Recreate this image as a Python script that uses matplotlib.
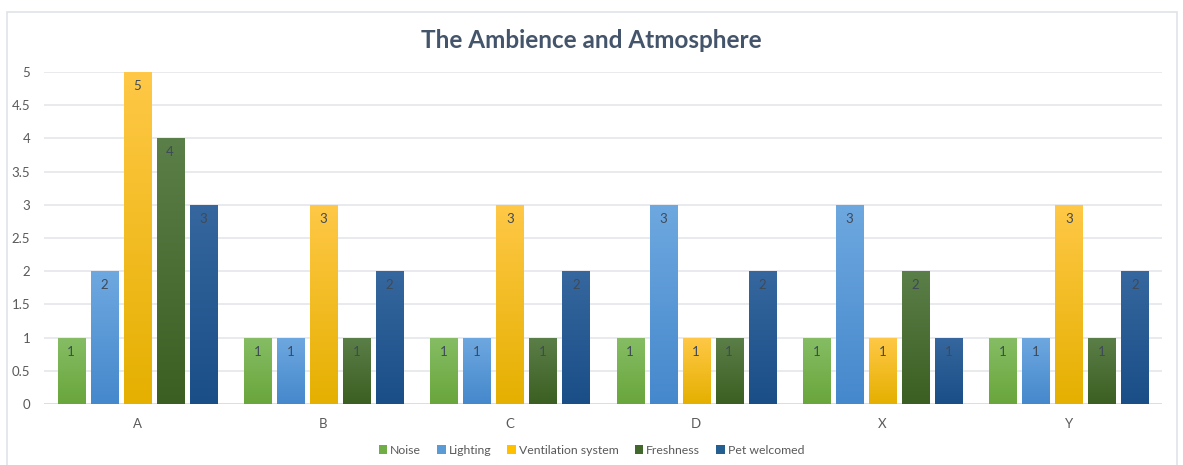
import numpy as np
import matplotlib
matplotlib.use("Agg")
import matplotlib.pyplot as plt
from matplotlib.colors import LinearSegmentedColormap
from matplotlib.patches import Rectangle, Patch

categories = ["A", "B", "C", "D", "X", "Y"]
series_names = ["Noise", "Lighting", "Ventilation system", "Freshness", "Pet welcomed"]
noise = [1, 1, 1, 1, 1, 1]
lighting = [2, 1, 1, 3, 3, 1]
ventilation = [5, 3, 3, 1, 1, 3]
freshness = [4, 1, 1, 1, 2, 1]
pet_welcomed = [3, 2, 2, 2, 1, 2]
yticks = [0, 0.5, 1, 1.5, 2, 2.5, 3, 3.5, 4, 4.5, 5]

series = [noise, lighting, ventilation, freshness, pet_welcomed]
# (top colour, bottom colour, legend colour)
palette = [
    ("#86bd65", "#69a63b", "#70ad47"),
    ("#6ea8e0", "#4588cc", "#5b9bd5"),
    ("#ffc847", "#e5b000", "#ffc000"),
    ("#5b7f48", "#3b5e22", "#43682b"),
    ("#36679f", "#1a4e86", "#255e91"),
]

plt.rcParams["font.family"] = ["Lato", "DejaVu Sans"]

fig = plt.figure(figsize=(11.83, 4.65), dpi=100)
W, H = 1183, 465

# outer chart border
fig.patches.append(Rectangle((7 / W, -0.05), (1177 - 7) / W, 1.05 - 12 / H,
                             transform=fig.transFigure, fill=False,
                             edgecolor="#dfe3e8", linewidth=1.2))

ax = fig.add_axes([44 / W, 1 - 404 / H, (1162 - 44) / W, (404 - 72) / H])

pitch = 0.177
width = 0.145
x = np.arange(len(categories))
grad = np.linspace(0, 1, 256).reshape(-1, 1)

for i, (vals, (ctop, cbot, _)) in enumerate(zip(series, palette)):
    offs = (i - 2) * pitch
    bars = ax.bar(x + offs, vals, width=width, color=ctop, zorder=2, linewidth=0)
    cmap = LinearSegmentedColormap.from_list(f"g{i}", [cbot, ctop])
    for b, v in zip(bars, vals):
        x0 = b.get_x()
        im = ax.imshow(grad, extent=(x0, x0 + width, 0, v), origin="lower",
                       cmap=cmap, aspect="auto", zorder=3)
        im.set_clip_path(b)
        ax.text(x0 + width / 2, v - 0.21, f"{v}", ha="center", va="center",
                fontsize=9.5, color="#3f4a58", zorder=4)

ax.set_xlim(-0.5, len(categories) - 0.5)
ax.set_ylim(0, 5)
ax.set_yticks(yticks)
ax.set_yticklabels([f"{t:g}" for t in yticks])
ax.set_xticks(x)
ax.set_xticklabels(categories)
ax.tick_params(axis="both", length=0, labelsize=9.5, colors="#595959")
ax.tick_params(axis="y", pad=10)
ax.tick_params(axis="x", pad=10)
ax.grid(axis="y", color="#e1e4ea", linewidth=1.1, zorder=0)
ax.set_axisbelow(True)
for s in ax.spines.values():
    s.set_visible(False)
ax.axhline(0, color="#d9dce2", linewidth=1.2, zorder=1)

fig.text(0.5, 1 - 40 / H, "The Ambience and Atmosphere", ha="center", va="center",
         fontsize=17.5, fontweight="bold", color="#44546a")

handles = [Patch(facecolor=c[2], edgecolor="none") for c in palette]
fig.legend(handles, series_names, loc="center", bbox_to_anchor=(0.5, 1 - 450 / H),
           ncol=5, frameon=False, fontsize=8.8, handlelength=0.7, handleheight=0.7,
           handletextpad=0.25, columnspacing=1.3, labelcolor="#595959")

fig.savefig("out.png", dpi=100)
